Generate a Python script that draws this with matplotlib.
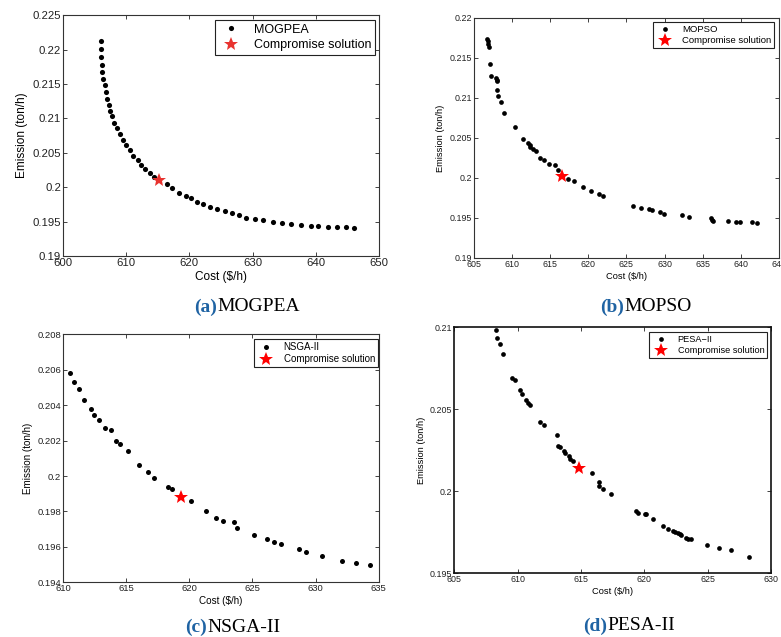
import matplotlib

matplotlib.use("Agg")
import matplotlib.pyplot as plt
from matplotlib.ticker import FuncFormatter, MultipleLocator
from matplotlib.lines import Line2D

plt.rcParams["font.family"] = ["Liberation Sans", "DejaVu Sans"]

# Pareto fronts (cost $/h, emission ton/h) for each algorithm
mogpea_cost = [606.0, 606.0, 606.05, 606.2, 606.2, 606.4, 606.65, 606.8, 607.0, 607.2,
               607.4, 607.8, 608.1, 608.6, 609.0, 609.5, 610.0, 610.6, 611.1, 611.8,
               612.4, 613.0, 613.7, 614.4, 616.4, 617.2, 618.4, 619.4, 620.3, 621.2,
               622.2, 623.3, 624.3, 625.6, 626.8, 627.9, 629.0, 630.3, 631.7, 633.3,
               634.6, 636.1, 637.7, 639.2, 640.4, 642.0, 643.4, 644.7, 646.0]
mogpea_emis = [0.2213, 0.2201, 0.2190, 0.2178, 0.2167, 0.2158, 0.2148, 0.2138, 0.2129, 0.2120,
               0.2111, 0.2103, 0.2094, 0.2086, 0.2077, 0.2069, 0.2061, 0.2054, 0.2046, 0.2039,
               0.2033, 0.2027, 0.2021, 0.2015, 0.2005, 0.1999, 0.1992, 0.1987, 0.1984, 0.1979,
               0.1975, 0.1972, 0.1968, 0.1965, 0.1962, 0.1959, 0.1956, 0.1954, 0.1952, 0.1950,
               0.1948, 0.1946, 0.1945, 0.1944, 0.1943, 0.1942, 0.1942, 0.1942, 0.1941]
mogpea_best = (615.2, 0.2010)

mopso_cost = [606.65, 606.78, 606.87, 606.91, 607.13, 607.2, 607.9, 608.0, 608.04, 608.0,
              608.09, 608.6, 608.96, 610.35, 611.43, 612.09, 612.3, 612.4, 612.7, 613.1,
              613.7, 614.13, 614.83, 615.57, 616.04, 617.3, 618.17, 619.26, 620.39, 621.39,
              621.96, 625.83, 626.96, 628.0, 628.3, 629.35, 629.96, 632.3, 633.2, 636.09,
              636.26, 636.4, 638.3, 639.35, 639.9, 641.5, 642.1]
mopso_emis = [0.21734, 0.21705, 0.21667, 0.21638, 0.21422, 0.21272, 0.2125, 0.21226, 0.2121, 0.21093,
              0.21026, 0.20943, 0.20814, 0.20639, 0.20489, 0.20431, 0.2041, 0.2039, 0.2036, 0.20335,
              0.20244, 0.20223, 0.20177, 0.20165, 0.20094, 0.19986, 0.19961, 0.1989, 0.19836, 0.19799,
              0.19769, 0.19645, 0.19624, 0.19615, 0.19595, 0.19574, 0.19545, 0.19536, 0.19511, 0.19499,
              0.19478, 0.19462, 0.19457, 0.19453, 0.19453, 0.19445, 0.19441]
mopso_best = (616.5, 0.20027)

nsga_cost = [610.55, 610.87, 611.22, 611.66, 612.19, 612.4, 612.8, 613.3, 613.75, 614.15,
             614.52, 615.13, 616.03, 616.69, 617.21, 618.32, 618.64, 620.15, 621.28, 622.13,
             622.66, 623.56, 623.77, 625.12, 626.12, 626.7, 627.26, 628.71, 629.27, 630.48,
             632.07, 633.18, 634.29]
nsga_emis = [0.20582, 0.20531, 0.2049, 0.20427, 0.20377, 0.20346, 0.20314, 0.20269, 0.20258, 0.20198,
             0.20179, 0.20141, 0.20062, 0.20021, 0.19989, 0.19938, 0.19927, 0.19859, 0.19801, 0.19765,
             0.19748, 0.19741, 0.19709, 0.19667, 0.19643, 0.19628, 0.19618, 0.19586, 0.19571, 0.19547,
             0.19518, 0.19507, 0.19496]
nsga_best = (619.3, 0.19882)

pesa_cost = [608.29, 608.37, 608.58, 608.84, 609.58, 609.79, 610.16, 610.34, 610.68, 610.84,
             611.0, 611.74, 612.05, 613.13, 613.21, 613.37, 613.66, 613.76, 614.05, 614.16,
             614.37, 615.87, 616.39, 616.45, 616.76, 617.34, 619.34, 619.53, 620.05, 620.16,
             620.66, 621.5, 621.84, 622.24, 622.45, 622.63, 622.82, 622.92, 623.29, 623.47,
             623.68, 624.92, 625.89, 626.82, 628.26]
pesa_emis = [0.20984, 0.20937, 0.209, 0.20839, 0.20691, 0.20681, 0.20615, 0.20596, 0.20555, 0.20539,
             0.20526, 0.20423, 0.20402, 0.20343, 0.20274, 0.20268, 0.20246, 0.20236, 0.20215, 0.20197,
             0.20183, 0.2011, 0.20059, 0.20035, 0.20016, 0.19982, 0.19878, 0.1987, 0.19864, 0.1986,
             0.19829, 0.19787, 0.19772, 0.1976, 0.19752, 0.19746, 0.19738, 0.19732, 0.19717, 0.19711,
             0.19707, 0.19673, 0.19654, 0.19642, 0.196]
pesa_best = (614.87, 0.20142)

PANELS = [
    dict(name="MOGPEA", tag="(a)", cost=mogpea_cost, emis=mogpea_emis, best=mogpea_best,
         rect=[0.0807, 0.598, 0.4046, 0.378], xlim=(600, 650), xstep=10, ylim=(0.19, 0.225), ystep=0.005,
         fs=8.2, lfs=9.0, dot=3.7, star=10.0, star_color="#e8332f", legend_box=(375, 20),
         caption=(217, 307), spine_w=0.8),
    dict(name="MOPSO", tag="(b)", cost=mopso_cost, emis=mopso_emis, best=mopso_best,
         rect=[0.6069, 0.595, 0.3905, 0.377], xlim=(605, 645), xstep=5, ylim=(0.19, 0.22), ystep=0.005,
         fs=6.4, lfs=6.8, dot=3.4, star=10.0, star_color="#ff0000", legend_box=(774, 22),
         caption=(624, 307), spine_w=0.8),
    dict(name="NSGA-II", tag="(c)", cost=nsga_cost, emis=nsga_emis, best=nsga_best,
         rect=[0.0810, 0.0859, 0.4038, 0.3893], xlim=(610, 635), xstep=5, ylim=(0.194, 0.208), ystep=0.002,
         fs=6.8, lfs=7.0, dot=3.6, star=10.0, star_color="#ff0000", legend_box=(378, 339),
         caption=(207, 627), spine_w=0.8),
    dict(name="PESA\u2212II", tag="(d)", cost=pesa_cost, emis=pesa_emis, best=pesa_best,
         rect=[0.5817, 0.1000, 0.4055, 0.3862], xlim=(605, 630), xstep=5, ylim=(0.195, 0.21), ystep=0.005,
         fs=6.4, lfs=6.6, dot=3.4, star=10.0, star_color="#ff0000", legend_box=(767, 332),
         caption=(607, 626), spine_w=1.2),
]

W, H = 781, 637
fig = plt.figure(figsize=(W / 100, H / 100), dpi=100)

for p in PANELS:
    ax = fig.add_axes(p["rect"])
    ax.plot(p["cost"], p["emis"], "o", color="black", markersize=p["dot"], markeredgewidth=0, zorder=3)
    ax.plot([p["best"][0]], [p["best"][1]], "*", color=p["star_color"], markersize=p["star"],
            markeredgewidth=0, zorder=4)
    ax.set_xlim(*p["xlim"])
    ax.set_ylim(*p["ylim"])
    ax.xaxis.set_major_locator(MultipleLocator(p["xstep"]))
    ax.yaxis.set_major_locator(MultipleLocator(p["ystep"]))
    ax.yaxis.set_major_formatter(FuncFormatter(lambda v, _: f"{round(v, 4):g}"))
    ax.xaxis.set_major_formatter(FuncFormatter(lambda v, _: f"{v:g}"))
    ax.tick_params(direction="in", top=True, right=True, length=3, width=0.6,
                   labelsize=p["fs"], pad=1.5, colors="#222222")
    for sp in ax.spines.values():
        sp.set_linewidth(p["spine_w"])
        sp.set_color("#333333" if p["spine_w"] < 1 else "#111111")
    ax.set_xlabel("Cost ($/h)", fontsize=p["fs"] + 0.3, labelpad=2)
    ax.set_ylabel("Emission (ton/h)", fontsize=p["fs"] + 0.3, labelpad=3)

    handles = [
        Line2D([], [], marker="o", linestyle="none", color="black", markersize=p["dot"], markeredgewidth=0),
        Line2D([], [], marker="*", linestyle="none", color=p["star_color"], markersize=p["star"], markeredgewidth=0),
    ]
    bx, by = p["legend_box"]
    leg = ax.legend(handles, [p["name"], "Compromise solution"], loc="upper right",
                    bbox_to_anchor=(bx / W, 1 - by / H), bbox_transform=fig.transFigure,
                    fontsize=p["lfs"], fancybox=False, framealpha=1, edgecolor="#222222",
                    borderaxespad=0, borderpad=0.3, handletextpad=0.8, labelspacing=0.25,
                    handlelength=2.0)
    leg.get_frame().set_linewidth(0.8)

    # caption under each panel: bold blue tag followed by the algorithm name
    cx, cy = p["caption"]
    fig.text(cx / W, 1 - cy / H, p["tag"], ha="right", va="center", fontsize=14,
             fontweight="bold", color="#1f63a3", family="Liberation Serif")
    fig.text(cx / W, 1 - cy / H, p["name"].replace("\u2212", "-"), ha="left", va="center",
             fontsize=14, color="black", family="Liberation Serif")

fig.savefig("out.png", dpi=100)
